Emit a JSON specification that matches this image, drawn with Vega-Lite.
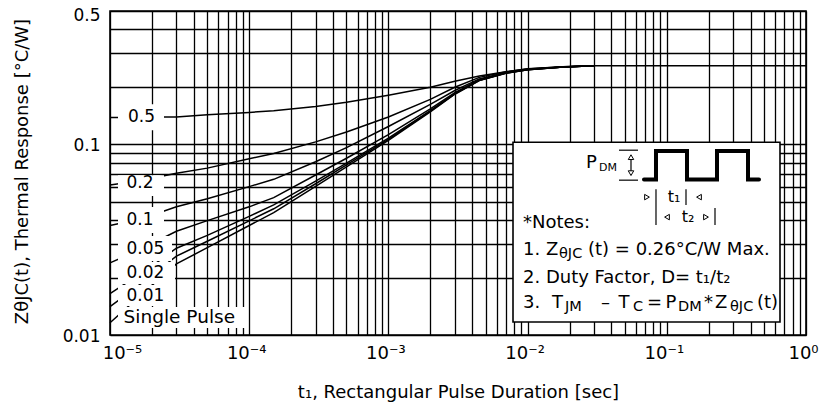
{
  "$schema": "https://vega.github.io/schema/vega-lite/v6.json",
  "width": 696,
  "height": 324,
  "autosize": {"type": "none"},
  "padding": {"left": 110, "top": 11, "right": 18, "bottom": 76},
  "background": "white",
  "config": {"view": {"stroke": "black", "strokeWidth": 1.6}, "font": "DejaVu Sans"},
  "datasets": {
    "curves": [
      {"s":"0.5","x":0.00001,"y":0.138},{"s":"0.5","x":0.000015,"y":0.138},{"s":"0.5","x":0.00002,"y":0.139},{"s":"0.5","x":0.00003,"y":0.139},{"s":"0.5","x":0.00005,"y":0.143},{"s":"0.5","x":0.0001,"y":0.147},{"s":"0.5","x":0.00015,"y":0.150},{"s":"0.5","x":0.0003,"y":0.158},{"s":"0.5","x":0.0005,"y":0.166},{"s":"0.5","x":0.001,"y":0.181},{"s":"0.5","x":0.002,"y":0.199},{"s":"0.5","x":0.003,"y":0.214},{"s":"0.5","x":0.0045,"y":0.228},{"s":"0.5","x":0.007,"y":0.240},{"s":"0.5","x":0.01,"y":0.249},{"s":"0.5","x":0.018,"y":0.255},{"s":"0.5","x":0.03,"y":0.258},
      {"s":"0.2","x":0.00001,"y":0.0611},{"s":"0.2","x":0.000015,"y":0.0638},{"s":"0.2","x":0.00002,"y":0.0663},{"s":"0.2","x":0.00003,"y":0.0705},{"s":"0.2","x":0.00005,"y":0.0750},{"s":"0.2","x":0.0001,"y":0.0840},{"s":"0.2","x":0.00015,"y":0.0895},{"s":"0.2","x":0.0003,"y":0.103},{"s":"0.2","x":0.0005,"y":0.116},{"s":"0.2","x":0.001,"y":0.139},{"s":"0.2","x":0.002,"y":0.172},{"s":"0.2","x":0.003,"y":0.199},{"s":"0.2","x":0.0045,"y":0.2244},{"s":"0.2","x":0.007,"y":0.2404},{"s":"0.2","x":0.01,"y":0.2484},{"s":"0.2","x":0.018,"y":0.2548},{"s":"0.2","x":0.03,"y":0.258},
      {"s":"0.1","x":0.00001,"y":0.0375},{"s":"0.1","x":0.000015,"y":0.0400},{"s":"0.1","x":0.00002,"y":0.0425},{"s":"0.1","x":0.00003,"y":0.0470},{"s":"0.1","x":0.00005,"y":0.0518},{"s":"0.1","x":0.0001,"y":0.0600},{"s":"0.1","x":0.00015,"y":0.0655},{"s":"0.1","x":0.0003,"y":0.0810},{"s":"0.1","x":0.0005,"y":0.0960},{"s":"0.1","x":0.001,"y":0.1240},{"s":"0.1","x":0.002,"y":0.162},{"s":"0.1","x":0.003,"y":0.1915},{"s":"0.1","x":0.0045,"y":0.2202},{"s":"0.1","x":0.007,"y":0.2382},{"s":"0.1","x":0.01,"y":0.2472},{"s":"0.1","x":0.018,"y":0.2544},{"s":"0.1","x":0.03,"y":0.258},
      {"s":"0.05","x":0.00001,"y":0.0239},{"s":"0.05","x":0.000015,"y":0.0272},{"s":"0.05","x":0.00002,"y":0.0302},{"s":"0.05","x":0.00003,"y":0.0350},{"s":"0.05","x":0.00005,"y":0.0398},{"s":"0.05","x":0.0001,"y":0.0470},{"s":"0.05","x":0.00015,"y":0.0525},{"s":"0.05","x":0.0003,"y":0.0690},{"s":"0.05","x":0.0005,"y":0.0845},{"s":"0.05","x":0.001,"y":0.1124},{"s":"0.05","x":0.002,"y":0.1535},{"s":"0.05","x":0.003,"y":0.1868},{"s":"0.05","x":0.0045,"y":0.2181},{"s":"0.05","x":0.007,"y":0.2371},{"s":"0.05","x":0.01,"y":0.2466},{"s":"0.05","x":0.018,"y":0.2542},{"s":"0.05","x":0.03,"y":0.258},
      {"s":"0.02","x":0.00001,"y":0.0165},{"s":"0.02","x":0.000015,"y":0.0200},{"s":"0.02","x":0.00002,"y":0.0230},{"s":"0.02","x":0.00003,"y":0.0285},{"s":"0.02","x":0.00005,"y":0.0333},{"s":"0.02","x":0.0001,"y":0.0419},{"s":"0.02","x":0.00015,"y":0.0481},{"s":"0.02","x":0.0003,"y":0.0641},{"s":"0.02","x":0.0005,"y":0.0797},{"s":"0.02","x":0.001,"y":0.1078},{"s":"0.02","x":0.002,"y":0.1502},{"s":"0.02","x":0.003,"y":0.1845},{"s":"0.02","x":0.0045,"y":0.2169},{"s":"0.02","x":0.007,"y":0.2365},{"s":"0.02","x":0.01,"y":0.2463},{"s":"0.02","x":0.018,"y":0.2541},{"s":"0.02","x":0.03,"y":0.258},
      {"s":"0.01","x":0.00001,"y":0.0141},{"s":"0.01","x":0.000015,"y":0.0175},{"s":"0.01","x":0.00002,"y":0.0206},{"s":"0.01","x":0.00003,"y":0.0259},{"s":"0.01","x":0.00005,"y":0.0310},{"s":"0.01","x":0.0001,"y":0.0397},{"s":"0.01","x":0.00015,"y":0.0459},{"s":"0.01","x":0.0003,"y":0.0621},{"s":"0.01","x":0.0005,"y":0.0779},{"s":"0.01","x":0.001,"y":0.1062},{"s":"0.01","x":0.002,"y":0.1491},{"s":"0.01","x":0.003,"y":0.1838},{"s":"0.01","x":0.0045,"y":0.2164},{"s":"0.01","x":0.007,"y":0.2362},{"s":"0.01","x":0.01,"y":0.2461},{"s":"0.01","x":0.018,"y":0.2541},{"s":"0.01","x":0.03,"y":0.258},
      {"s":"single","x":0.00001,"y":0.0116},{"s":"single","x":0.000015,"y":0.0151},{"s":"single","x":0.00002,"y":0.0182},{"s":"single","x":0.00003,"y":0.0236},{"s":"single","x":0.00005,"y":0.0287},{"s":"single","x":0.0001,"y":0.0375},{"s":"single","x":0.00015,"y":0.0438},{"s":"single","x":0.0003,"y":0.0601},{"s":"single","x":0.0005,"y":0.0761},{"s":"single","x":0.001,"y":0.1047},{"s":"single","x":0.002,"y":0.148},{"s":"single","x":0.003,"y":0.183},{"s":"single","x":0.0045,"y":0.216},{"s":"single","x":0.007,"y":0.236},{"s":"single","x":0.01,"y":0.246},{"s":"single","x":0.018,"y":0.254},{"s":"single","x":0.03,"y":0.258},{"s":"single","x":1,"y":0.258}
    ],
    "lboxes": [
      {"x":0.000011414,"x2":0.00002443,"y":0.16221,"y2":0.11854},
      {"x":0.000011414,"x2":0.00002443,"y":0.068889,"y2":0.053488},
      {"x":0.000011414,"x2":0.00002443,"y":0.046833,"y2":0.034215},
      {"x":0.000011414,"x2":0.00002789,"y":0.0330,"y2":0.024412},
      {"x":0.000011414,"x2":0.00002931,"y":0.024119,"y2":0.018502},
      {"x":0.000011414,"x2":0.00002931,"y":0.01828,"y2":0.014191},
      {"x":0.000011414,"x2":0.00009643,"y":0.014021,"y2":0.010881}
    ],
    "labels": [
      {"x":0.00001347,"y":0.13867,"t":"0.5"},
      {"x":0.00001314,"y":0.062326,"t":"0.2"},
      {"x":0.00001314,"y":0.04004,"t":"0.1"},
      {"x":0.00001314,"y":0.028112,"t":"0.05"},
      {"x":0.00001314,"y":0.021199,"t":"0.02"},
      {"x":0.00001314,"y":0.016007,"t":"0.01"}
    ],
    "wave": [
      {"i":0,"x":0.06858,"y":0.065402},{"i":1,"x":0.08363,"y":0.065402},{"i":2,"x":0.08363,"y":0.09235},{"i":3,"x":0.13967,"y":0.09235},{"i":4,"x":0.13967,"y":0.065402},{"i":5,"x":0.22941,"y":0.065402},{"i":6,"x":0.22941,"y":0.09235},{"i":7,"x":0.38312,"y":0.09235},{"i":8,"x":0.38312,"y":0.065402},{"i":9,"x":0.4596,"y":0.065402}
    ],
    "rules": [
      {"x":0.04535,"x2":0.0621,"y":0.09313,"y2":0.09313},
      {"x":0.04535,"x2":0.0621,"y":0.06485,"y2":0.06485},
      {"x":0.05531,"x2":0.05531,"y":0.086655,"y2":0.069724},
      {"x":0.08363,"x2":0.08363,"y":0.05817,"y2":0.037695},
      {"x":0.13738,"x2":0.13738,"y":0.05817,"y2":0.047977},
      {"x":0.22196,"x2":0.22196,"y":0.046272,"y2":0.037695}
    ],
    "tris": [
      {"x":0.05531,"y":0.085618,"dir":"up"},
      {"x":0.05531,"y":0.070571,"dir":"down"},
      {"x":0.07207,"y":0.052846,"dir":"right"},
      {"x":0.17031,"y":0.052846,"dir":"left"},
      {"x":0.10033,"y":0.041515,"dir":"left"},
      {"x":0.19124,"y":0.041515,"dir":"right"}
    ],
    "notesMain": [
      {"x":0.02627,"y":0.079616,"t":"P"},
      {"x":0.009267,"y":0.038615,"t":"*Notes:"},
      {"x":0.009267,"y":0.027876,"t":"1. Z"},
      {"x":0.02716,"y":0.027876,"t":"(t) = 0.26°C/W Max."},
      {"x":0.009267,"y":0.019886,"t":"2. Duty Factor, D= t₁/t₂"},
      {"x":0.009267,"y":0.014714,"t":"3."},
      {"x":0.014972,"y":0.014714,"t":"T"},
      {"x":0.03368,"y":0.014714,"t":"–"},
      {"x":0.044978,"y":0.014714,"t":"T"},
      {"x":0.07207,"y":0.014714,"t":"="},
      {"x":0.097873,"y":0.014714,"t":"P"},
      {"x":0.18497,"y":0.014714,"t":"*"},
      {"x":0.22196,"y":0.014714,"t":"Z"},
      {"x":0.44458,"y":0.014714,"t":"(t)"}
    ],
    "notesSub": [
      {"x":0.016811,"y":0.026563,"t":"θJC"},
      {"x":0.018566,"y":0.014021,"t":"JM"},
      {"x":0.05718,"y":0.014021,"t":"C"},
      {"x":0.12034,"y":0.014021,"t":"DM"},
      {"x":0.28446,"y":0.014021,"t":"θJC"}
    ]
  },
  "encoding": {
    "x": {
      "field": "x", "type": "quantitative",
      "scale": {"type": "log", "domain": [0.00001, 1], "nice": false},
      "axis": {
        "values": [0.00001,0.00002,0.00003,0.00004,0.00005,0.00006,0.00007,0.00008,0.00009,0.0001,0.0002,0.0003,0.0004,0.0005,0.0006,0.0007,0.0008,0.0009,0.001,0.002,0.003,0.004,0.005,0.006,0.007,0.008,0.009,0.01,0.02,0.03,0.04,0.05,0.06,0.07,0.08,0.09,0.1,0.2,0.3,0.4,0.5,0.6,0.7,0.8,0.9,1],
        "grid": true, "gridColor": "black", "gridWidth": 1.3, "gridOpacity": 1,
        "domain": false, "ticks": false,
        "labelExpr": "datum.value == 0.00001 ? '10⁻⁵' : datum.value == 0.0001 ? '10⁻⁴' : datum.value == 0.001 ? '10⁻³' : datum.value == 0.01 ? '10⁻²' : datum.value == 0.1 ? '10⁻¹' : datum.value == 1 ? '10⁰' : ''",
        "labelFont": "DejaVu Sans", "labelFontSize": 18, "labelColor": "black",
        "labelPadding": 9, "labelOverlap": false, "labelFlush": false, "labelBaseline": "top",
        "labelOffset": {"condition": {"test": "datum.value < 0.000011", "value": 12}, "value": -3},
        "title": "t₁, Rectangular Pulse Duration [sec]",
        "titleFont": "DejaVu Sans", "titleFontSize": 18, "titleFontWeight": "normal", "titleColor": "black",
        "titleY": 57, "titleBaseline": "middle"
      }
    },
    "y": {
      "field": "y", "type": "quantitative",
      "scale": {"type": "log", "domain": [0.01, 0.5], "nice": false},
      "axis": {
        "values": [0.01,0.02,0.03,0.04,0.05,0.06,0.07,0.08,0.09,0.1,0.2,0.3,0.4,0.5],
        "grid": true, "gridColor": "black", "gridWidth": 1.3, "gridOpacity": 1,
        "domain": false, "ticks": false,
        "labelExpr": "datum.value == 0.01 ? '0.01' : datum.value == 0.1 ? '0.1' : datum.value == 0.5 ? '0.5' : ''",
        "labelFont": "DejaVu Sans", "labelFontSize": 17, "labelColor": "black",
        "labelPadding": 10, "labelOverlap": false, "labelFlush": false,
        "labelOffset": {"condition": {"test": "datum.value == 0.5", "value": 4}, "value": 1},
        "title": "ZθJC(t), Thermal Response [°C/W]",
        "titleFont": "DejaVu Sans", "titleFontSize": 18, "titleFontWeight": "normal", "titleColor": "black",
        "titleX": -88, "titleY": 160, "titleAngle": -90, "titleBaseline": "middle", "titleAlign": "center"
      }
    }
  },
  "layer": [
    {"data": {"name": "curves"}, "mark": {"type": "line", "color": "black", "strokeWidth": 1.5}, "encoding": {"detail": {"field": "s"}}},
    {"data": {"name": "lboxes"}, "mark": {"type": "rect", "fill": "white", "stroke": null}, "encoding": {"x2": {"field": "x2"}, "y2": {"field": "y2"}}},
    {"data": {"name": "labels"}, "mark": {"type": "text", "align": "left", "baseline": "middle", "fontSize": 17, "font": "DejaVu Sans", "color": "black"}, "encoding": {"text": {"field": "t"}}},
    {"data": {"values": [{"x": 0.00001252, "y": 0.012468, "t": "Single Pulse"}]}, "mark": {"type": "text", "align": "left", "baseline": "middle", "fontSize": 18.5, "font": "DejaVu Sans", "color": "black"}, "encoding": {"text": {"field": "t"}}},
    {"data": {"values": [{"x": 0.007855, "x2": 0.65048, "y": 0.10256, "y2": 0.011698}]}, "mark": {"type": "rect", "fill": "white", "stroke": "black", "strokeWidth": 1.6}, "encoding": {"x2": {"field": "x2"}, "y2": {"field": "y2"}}},
    {"data": {"name": "wave"}, "mark": {"type": "line", "color": "black", "strokeWidth": 4, "strokeCap": "round", "strokeJoin": "miter"}, "encoding": {"order": {"field": "i", "type": "quantitative"}}},
    {"data": {"name": "rules"}, "mark": {"type": "rule", "color": "black", "strokeWidth": 1.2}, "encoding": {"x2": {"field": "x2"}, "y2": {"field": "y2"}}},
    {"data": {"name": "tris"}, "mark": {"type": "point", "filled": false, "fill": "white", "stroke": "black", "strokeWidth": 1, "size": 30, "opacity": 1}, "encoding": {"shape": {"field": "dir", "type": "nominal", "scale": {"domain": ["up", "down", "left", "right"], "range": ["triangle-up", "triangle-down", "triangle-left", "triangle-right"]}, "legend": null}}},
    {"data": {"name": "notesMain"}, "mark": {"type": "text", "align": "left", "baseline": "middle", "fontSize": 18, "font": "DejaVu Sans", "color": "black"}, "encoding": {"text": {"field": "t"}}},
    {"data": {"name": "notesSub"}, "mark": {"type": "text", "align": "left", "baseline": "middle", "fontSize": 14.5, "font": "DejaVu Sans", "color": "black"}, "encoding": {"text": {"field": "t"}}},
    {"data": {"values": [{"x": 0.11264, "y": 0.052846, "t": "t₁"}, {"x": 0.14201, "y": 0.041515, "t": "t₂"}]}, "mark": {"type": "text", "align": "center", "baseline": "middle", "fontSize": 16, "font": "DejaVu Sans", "color": "black"}, "encoding": {"text": {"field": "t"}}},
    {"data": {"values": [{"x": 0.03259, "y": 0.074959, "t": "DM"}]}, "mark": {"type": "text", "align": "left", "baseline": "middle", "fontSize": 11, "font": "DejaVu Sans", "color": "black"}, "encoding": {"text": {"field": "t"}}}
  ]
}
